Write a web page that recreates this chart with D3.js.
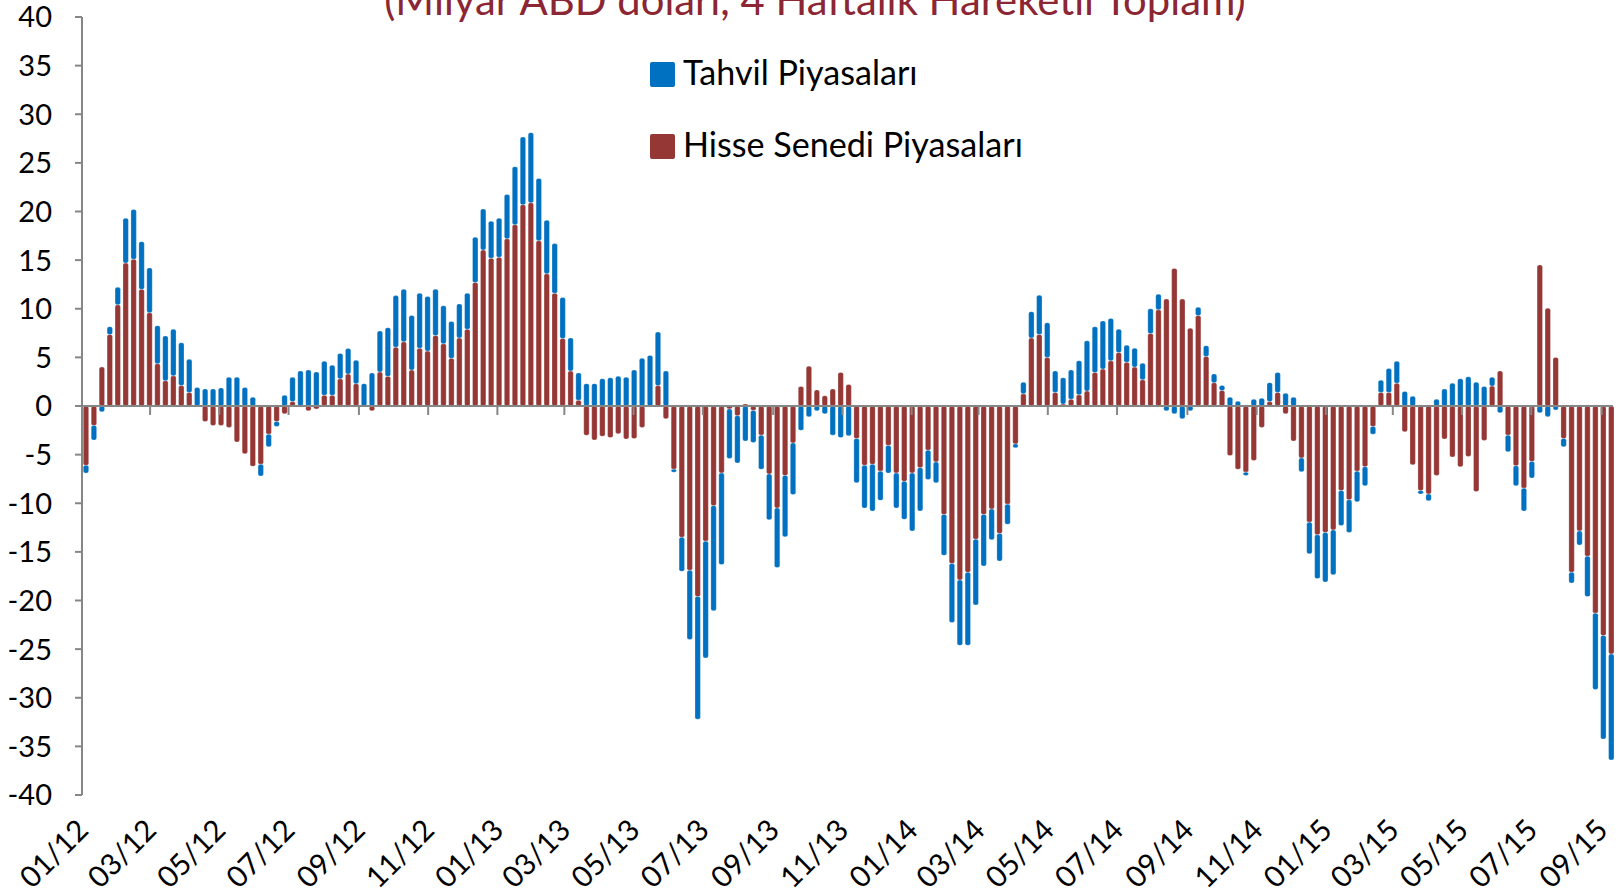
<!DOCTYPE html>
<html>
<head>
<meta charset="utf-8">
<title>Portföy akımları</title>
<style>
  body { margin: 0; background: #fff; }
  svg { display: block; font-family: Lato, "Open Sans", sans-serif; }
</style>
</head>
<body>
<svg></svg>
<script src="https://d3js.org/d3.v7.min.js"></script>
<script>
// weekly values, billion USD (4-week moving sum)
const hisse = [
  -6.1, -2.0, 4.0, 7.35, 10.4, 14.7, 15.1, 12.0, 9.6, 4.35,
  2.6, 3.1, 2.1, 1.4, -0.1, -1.6, -2.0, -2.0, -2.2, -3.7,
  -4.9, -6.2, -6.0, -2.9, -1.6, -0.8, 0.45, -0.1, -0.5, -0.3,
  1.1, 1.1, 2.8, 3.3, 2.3, -0.1, -0.5, 3.5, 3.05, 6.05,
  6.6, 3.7, 5.95, 5.65, 7.25, 6.4, 4.9, 7.0, 7.9, 12.7,
  16.05, 15.2, 15.3, 17.2, 18.65, 20.7, 20.9, 17.0, 13.6, 11.6,
  6.95, 3.6, 0.6, -3.0, -3.5, -3.1, -3.25, -2.85, -3.4, -3.35,
  -2.2, -0.1, 2.1, -1.3, -6.5, -13.5, -16.9, -19.6, -13.9, -10.25,
  -6.9, -0.3, -1.0, 0.2, -0.45, -3.0, -7.0, -10.5, -7.15, -3.8,
  2.0, 4.1, 1.65, 1.05, 1.75, 3.45, 2.2, -3.35, -6.1, -6.0,
  -6.7, -4.05, -6.9, -7.75, -6.9, -6.35, -4.55, -5.75, -11.15, -16.2,
  -17.9, -17.1, -13.7, -11.15, -10.6, -13.1, -10.1, -3.9, 1.25, 7.0,
  7.35, 5.0, 1.4, 0.2, 0.7, 1.15, 1.55, 3.45, 3.8, 4.65,
  5.5, 4.5, 4.0, 2.7, 7.45, 9.9, 11.0, 14.15, 11.0, 8.0,
  9.3, 5.1, 2.4, 1.6, -5.1, -6.5, -6.8, -5.6, -2.2, 0.45,
  1.4, -0.8, -3.6, -5.35, -11.95, -13.25, -13.0, -12.75, -8.7, -9.65,
  -6.7, -6.25, -2.1, 1.4, 1.4, 2.35, -2.65, -6.05, -8.7, -9.05,
  -7.15, -3.4, -5.25, -6.25, -5.2, -8.8, -3.55, 2.05, 3.6, -3.0,
  -6.15, -8.45, -5.7, 14.5, 10.05, 5.0, -3.35, -17.1, -12.85, -15.45,
  -21.3, -23.6, -25.5
]
const tahvil = [
  -0.8, -1.5, -0.6, 0.8, 1.8, 4.6, 5.1, 4.9, 4.6, 3.9,
  4.6, 4.8, 4.4, 3.4, 1.9, 1.75, 1.75, 1.85, 2.95, 2.95,
  1.9, 0.9, -1.2, -1.3, -0.5, 1.1, 2.5, 3.6, 3.7, 3.5,
  3.5, 3.1, 2.6, 2.6, 2.4, 2.3, 3.4, 4.2, 5.0, 5.3,
  5.4, 5.6, 5.65, 5.6, 4.75, 3.9, 3.8, 3.5, 3.7, 4.65,
  4.2, 3.8, 4.0, 4.55, 5.95, 6.95, 7.2, 6.4, 5.5, 5.1,
  4.2, 3.4, 2.8, 2.3, 2.3, 2.8, 2.9, 3.05, 2.95, 3.7,
  4.9, 5.2, 5.5, 3.6, -0.3, -3.5, -7.1, -12.6, -12.0, -10.8,
  -9.4, -5.1, -4.85, -3.6, -3.3, -3.5, -4.7, -6.1, -6.3, -5.3,
  -2.5, -1.1, -0.5, -0.8, -3.0, -3.25, -3.05, -4.55, -4.4, -4.8,
  -3.0, -2.85, -3.6, -3.9, -5.95, -4.45, -3.0, -2.15, -4.2, -6.05,
  -6.7, -7.5, -6.75, -5.3, -3.15, -2.85, -2.05, -0.4, 1.2, 2.7,
  4.05, 3.55, 2.2, 2.7, 3.0, 3.5, 5.15, 4.7, 4.95, 4.35,
  2.4, 1.75, 1.95, 1.7, 2.55, 1.6, -0.5, -0.8, -1.3, -0.5,
  0.85, 1.1, 0.9, 0.5, 0.9, 0.5, -0.35, 0.7, 0.8, 1.95,
  2.05, 1.3, 0.9, -1.4, -3.25, -4.5, -5.1, -4.6, -3.6, -3.35,
  -3.15, -1.95, -0.8, 1.25, 2.45, 2.25, 1.5, 1.0, -0.35, -0.7,
  0.7, 1.75, 2.35, 2.8, 3.0, 2.45, 2.0, 0.9, -0.7, -1.7,
  -2.05, -2.35, -1.7, -0.7, -1.1, -0.4, -0.85, -1.1, -1.45, -4.15,
  -7.85, -10.65, -10.9
]
// one bar per Wednesday, 04.01.2012 - 09.09.2015
const weeks = d3.timeWednesday.range(new Date(2012, 0, 4), new Date(2015, 8, 10))
const tickLabels = ["01/12", "03/12", "05/12", "07/12", "09/12", "11/12",
  "01/13", "03/13", "05/13", "07/13", "09/13", "11/13",
  "01/14", "03/14", "05/14", "07/14", "09/14", "11/14",
  "01/15", "03/15", "05/15", "07/15", "09/15"]
const tickDates = d3.timeMonth.every(2).range(new Date(2012, 0, 1), new Date(2015, 8, 2))
const yTicks = [-40, -35, -30, -25, -20, -15, -10, -5, 0, 5, 10, 15, 20, 25, 30, 35, 40]
const legendNames = {tahvil: "Tahvil Piyasaları", hisse: "Hisse Senedi Piyasaları"}
const colors = {tahvil: "#0070c0", hisse: "#953735"}

// canvas
var _width = 1623
var _height = 895
var _svg = d3.select("svg").attr("width", _width).attr("height", _height)

// scales
const x = d3.scaleTime()
  .domain([new Date(2012, 0, 1), new Date(2015, 8, 11)])
  .range([82, 1613])
const y = d3.scaleLinear().domain([-40, 40]).range([795, 17])
const barW = 5.4
const axisColor = "#868686"

// stacked bars (positives up, negatives down, like excel)
const rows = weeks.map((d, i) => ({date: d, hisse: hisse[i], tahvil: tahvil[i]}))
const series = d3.stack().keys(["hisse", "tahvil"]).offset(d3.stackOffsetDiverging)(rows)

_svg.append("g")
  .selectAll("g")
  .data(series)
  .join("g")
  .attr("fill", d => colors[d.key])
  .selectAll("rect")
  .data(d => d)
  .join("rect")
  .attr("x", d => x(d3.timeHour.offset(d.data.date, 12)) - barW / 2)
  .attr("y", d => y(Math.max(d[0], d[1])))
  .attr("width", barW)
  .attr("height", d => Math.abs(y(d[0]) - y(d[1])))
  .attr("rx", 2)
  .attr("stroke", "#fff")
  .attr("stroke-opacity", 0.5)
  .attr("stroke-width", 0.5)

// y axis
const yAxis = _svg.append("g")
yAxis.append("line")
  .attr("x1", 82).attr("x2", 82)
  .attr("y1", y(40)).attr("y2", y(-40))
  .attr("stroke", axisColor).attr("stroke-width", 2)
yAxis.selectAll("line.tick")
  .data(yTicks)
  .join("line")
  .attr("class", "tick")
  .attr("x1", 75).attr("x2", 82)
  .attr("y1", d => y(d)).attr("y2", d => y(d))
  .attr("stroke", axisColor).attr("stroke-width", 2)
yAxis.selectAll("text")
  .data(yTicks)
  .join("text")
  .attr("x", 52)
  .attr("y", d => y(d))
  .attr("dy", "0.36em")
  .attr("text-anchor", "end")
  .attr("font-size", 29)
  .attr("fill", "#000")
  .text(d => d)

// x axis on zero line, labels at the bottom
const xAxis = _svg.append("g")
xAxis.append("line")
  .attr("x1", 82).attr("x2", 1613)
  .attr("y1", y(0)).attr("y2", y(0))
  .attr("stroke", axisColor).attr("stroke-width", 2)
xAxis.selectAll("line.tick")
  .data(tickDates)
  .join("line")
  .attr("class", "tick")
  .attr("x1", d => x(d)).attr("x2", d => x(d))
  .attr("y1", y(0)).attr("y2", y(0) + 9)
  .attr("stroke", axisColor).attr("stroke-width", 2)
xAxis.selectAll("text")
  .data(tickDates)
  .join("text")
  .attr("transform", d => `translate(${x(d) + 8},832) rotate(-45)`)
  .attr("text-anchor", "end")
  .attr("font-size", 29.5)
  .attr("fill", "#000")
  .text((d, i) => tickLabels[i])

// title (cut at the top like the original)
const title = _svg.append("text")
  .attr("x", 815)
  .attr("y", 15)
  .attr("text-anchor", "middle")
  .attr("fill", "#8c2634")
  .attr("font-size", 36)
  .text("(Milyar ABD doları, 4 Haftalık Hareketli Toplam)")
const tLen = title.node().getComputedTextLength()
title.attr("font-size", 36 * 862 / tLen)

// legend
const legend = _svg.append("g")
const legendRows = [
  {key: "tahvil", y: 62, base: 85},
  {key: "hisse", y: 134, base: 157}
]
legend.selectAll("rect")
  .data(legendRows)
  .join("rect")
  .attr("x", 650).attr("y", d => d.y)
  .attr("width", 25).attr("height", 25)
  .attr("rx", 2)
  .attr("fill", d => colors[d.key])
const legendText = legend.selectAll("text")
  .data(legendRows)
  .join("text")
  .attr("x", 683)
  .attr("y", d => d.base)
  .attr("font-size", 32)
  .attr("fill", "#000")
  .text(d => legendNames[d.key])
const lLen = legendText.nodes()[1].getComputedTextLength()
legendText.attr("font-size", 32 * 340 / lLen)
</script>
</body>
</html>
